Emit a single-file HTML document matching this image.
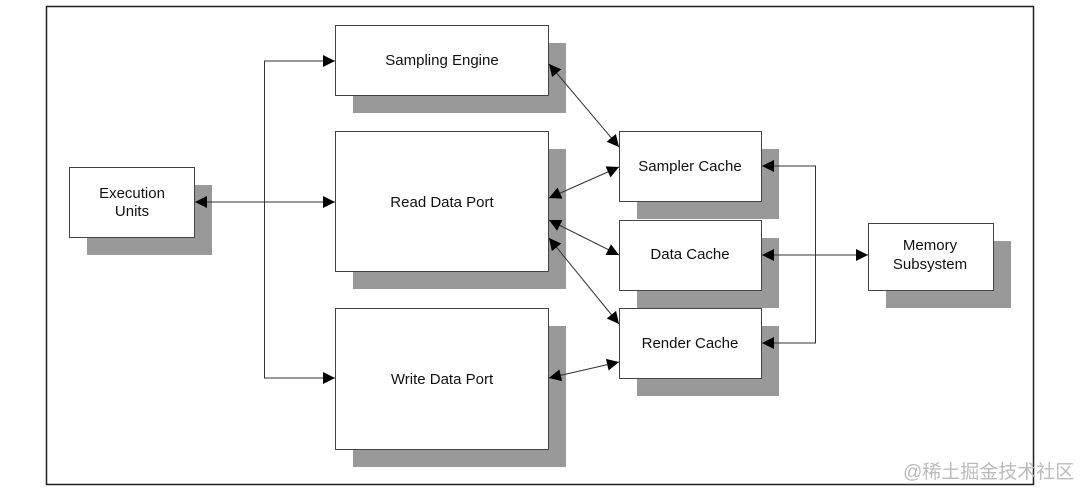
<!DOCTYPE html>
<html><head><style>
body{margin:0;background:#fff;}
svg text{font-family:"Liberation Sans",Arial,sans-serif;font-size:15px;fill:#111;}
</style></head><body>
<svg width="1080" height="497" viewBox="0 0 1080 497" xmlns="http://www.w3.org/2000/svg">
<defs>
<marker id="a" viewBox="0 0 10 10" refX="10" refY="5" markerWidth="16" markerHeight="12" markerUnits="userSpaceOnUse" orient="auto-start-reverse"><path d="M0,0L10,5L0,10z" fill="#000"/></marker>
</defs>
<rect x="46.5" y="6.5" width="987" height="478" fill="#fff" stroke="#222" stroke-width="1.5"/>
<g fill="#999">
<rect x="87" y="185" width="125" height="70"/>
<rect x="353" y="43" width="213" height="70"/>
<rect x="353" y="149" width="213" height="140"/>
<rect x="353" y="326" width="213" height="141"/>
<rect x="637" y="149" width="142" height="70"/>
<rect x="637" y="238" width="142" height="70"/>
<rect x="637" y="326" width="142" height="70"/>
<rect x="886" y="241" width="125" height="67"/>
</g>
<g fill="#fff" stroke="#444" stroke-width="1">
<rect x="69.5" y="167.5" width="125" height="70"/>
<rect x="335.5" y="25.5" width="213" height="70"/>
<rect x="335.5" y="131.5" width="213" height="140"/>
<rect x="335.5" y="308.5" width="213" height="141"/>
<rect x="619.5" y="131.5" width="142" height="70"/>
<rect x="619.5" y="220.5" width="142" height="70"/>
<rect x="619.5" y="308.5" width="142" height="70"/>
<rect x="868.5" y="223.5" width="125" height="67"/>
</g>
<g stroke="#333" stroke-width="1" fill="none">
<path d="M335,61H264.5V378H335" marker-end="url(#a)"/>
<line x1="264.5" y1="61" x2="335" y2="61" marker-end="url(#a)"/>
<line x1="195" y1="202" x2="335" y2="202" marker-start="url(#a)" marker-end="url(#a)"/>
<line x1="549" y1="64" x2="619" y2="147" marker-start="url(#a)" marker-end="url(#a)"/>
<line x1="549" y1="198" x2="619" y2="167" marker-start="url(#a)" marker-end="url(#a)"/>
<line x1="549" y1="220" x2="619" y2="255" marker-start="url(#a)" marker-end="url(#a)"/>
<line x1="549" y1="238" x2="619" y2="324" marker-start="url(#a)" marker-end="url(#a)"/>
<line x1="549" y1="378" x2="619" y2="362" marker-start="url(#a)" marker-end="url(#a)"/>
<path d="M762,166H815.5V343H762"/>
<line x1="790" y1="166" x2="762" y2="166" marker-end="url(#a)"/>
<line x1="790" y1="343" x2="762" y2="343" marker-end="url(#a)"/>
<line x1="762" y1="255" x2="868" y2="255" marker-start="url(#a)" marker-end="url(#a)"/>
</g>
<text x="132" y="198" text-anchor="middle">Execution</text>
<text x="132" y="216" text-anchor="middle">Units</text>
<text x="442" y="65" text-anchor="middle">Sampling Engine</text>
<text x="442" y="207" text-anchor="middle">Read Data Port</text>
<text x="442" y="384" text-anchor="middle">Write Data Port</text>
<text x="690" y="171" text-anchor="middle">Sampler Cache</text>
<text x="690" y="259" text-anchor="middle">Data Cache</text>
<text x="690" y="348" text-anchor="middle">Render Cache</text>
<text x="930" y="250" text-anchor="middle">Memory</text>
<text x="930" y="269" text-anchor="middle">Subsystem</text>
<text x="903" y="478" style="font-family:'Liberation Sans','Noto Sans CJK SC',sans-serif;font-size:19px;fill:#bbb;">@稀土掘金技术社区</text>
</svg>
</body></html>
